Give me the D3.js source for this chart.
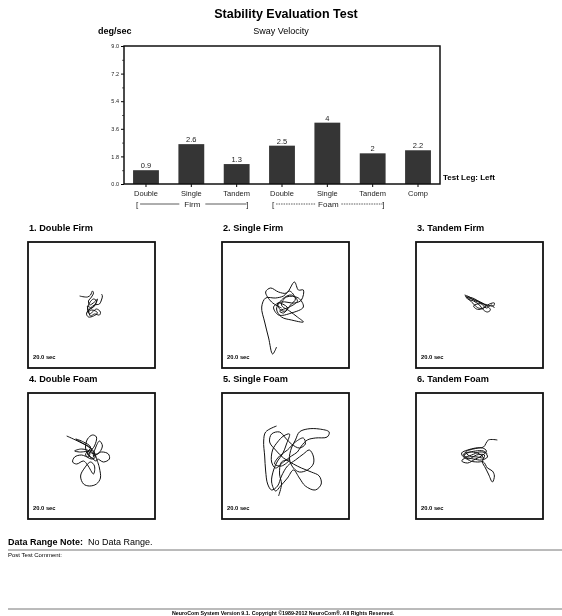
<!DOCTYPE html>
<html>
<head>
<meta charset="utf-8">
<script src="https://cdnjs.cloudflare.com/ajax/libs/d3/7.8.5/d3.min.js"></script>
<style>
  body { margin: 0; background: #fff; }
  svg { font-family: "Liberation Sans", Arial, sans-serif; filter: grayscale(100%); }
</style>
</head>
<body>
<svg id="chart" width="562" height="616"></svg>
<script>
// bar chart data
const categories = ['Double', 'Single', 'Tandem', 'Double', 'Single', 'Tandem', 'Comp'];
const swayVelocity = [0.9, 2.6, 1.3, 2.5, 4, 2, 2.2];
const valueLabels = ['0.9', '2.6', '1.3', '2.5', '4', '2', '2.2'];
const yTicks = [0, 1.8, 3.6, 5.4, 7.2, 9.0];
const yMinorTicks = [0.9, 2.7, 4.5, 6.3, 8.1];
const groups = [
  {name: 'Firm', from: 0, to: 2, dashed: false},
  {name: 'Foam', from: 3, to: 5, dashed: true}
];

// sway traces, [x, y] centre of gravity offsets
const traceDoubleFirm = [[-12, 9], [-4, 8], [-1, 10], [1, 14], [2, 12], [0, 8], [-3, 4], [-2, 0], [3, 3], [6, 6],
  [4, 1], [0, -3], [-4, -1], [-3, -6], [-1, -11], [3, -9], [8, -10], [9, -7], [5, -4], [1, -7], [-2, -9],
  [-4, -4], [-2, 2], [2, 6], [5, 4], [2, -2], [-3, -5], [-5, -9], [-3, -12], [2, -11], [6, -8], [4, -6],
  [0, -5], [-4, -7], [-1, -3], [3, 0], [8, 1], [10, 5], [11, 9], [10, 11]];
const traceSingleFirm = [[-4, -3], [-14, 3], [-20, 13], [-15, 17], [-7, 13], [1, 12], [9, 23], [13, 15], [18, 15],
  [16, 5], [9, 2], [-4, 3], [-12, -2], [-7, -10], [6, -8], [18, -2], [13, 7], [1, 8], [-4, 0], [4, -6],
  [12, -12], [18, -17], [6, -15], [-4, -12], [-9, -4], [-3, 6], [6, 10], [12, 4], [4, -2], [-6, -6],
  [-2, -8], [2, -3], [-3, 1], [-8, 2], [-5, -5], [0, -6], [5, 0], [10, 6], [4, 14], [-2, 9], [-10, 7],
  [-20, 7], [-24, -2], [-21, -17], [-17, -33], [-13, -49], [-9, -42]];
const traceTandemFirm = [[-15, 10], [-10, 8], [-4, 4], [2, 2], [8, 0], [14, -1], [15, 2], [10, 1], [4, -3], [-1, -3],
  [-5, 0], [-10, 5], [-14, 9], [-12, 6], [-6, 4], [0, 0], [4, -5], [8, -7], [11, -5], [9, -2], [4, 1],
  [-2, 1], [-6, -1], [-3, -4], [2, -4], [6, -1], [1, 3], [-8, 6], [-13, 8], [-7, 7], [0, 3], [7, -3],
  [12, 0], [15, -3]];
const traceDoubleFoam = [[-25, 20], [-12, 14], [0, 7], [-3, 2], [-6, 8], [-4, 17], [1, 21], [5, 19], [3, 10], [-1, 4],
  [6, 2], [11, 10], [8, 15], [4, 8], [2, 0], [10, 4], [17, 2], [18, -3], [12, -6], [6, -3], [8, -12],
  [9, -22], [5, -28], [-2, -30], [-8, -28], [-11, -20], [-7, -12], [-1, -6], [3, -10], [2, -18], [-4, -9],
  [-8, -5], [-15, -8], [-19, -6], [-17, -1], [-10, 1], [-3, -1], [-2, 4], [-12, 4], [-17, 5], [-10, 7],
  [0, 4], [4, -1], [0, -3], [-6, 1], [-2, 6], [3, 3], [1, -2], [-4, 2], [-1, 9], [-8, 14], [-16, 17],
  [-6, 11], [2, 5], [5, -5], [-1, -1], [-5, 4]];
const traceSingleFoam = [[-9, 30], [-20, 24], [-22, 15], [-21, 0], [-20, -15], [-18, -28], [-14, -34], [-8, -30],
  [-4, -20], [2, -10], [10, -4], [18, 2], [24, 6], [28, 0], [28, -8], [22, -14], [14, -16], [8, -12],
  [4, -3], [6, 8], [10, 16], [14, 24], [22, 27], [34, 27], [44, 24], [42, 19], [30, 18], [22, 16],
  [16, 10], [12, 4], [6, 0], [-2, -6], [-10, -12], [-14, -6], [-13, 6], [-8, 14], [-2, 20], [4, 22],
  [1, 12], [-3, 2], [-8, -5], [-12, -14], [-14, -26], [-10, -35], [-5, -30], [2, -22], [8, -14],
  [14, -22], [20, -30], [30, -34], [36, -28], [34, -20], [26, -16], [16, -12], [8, -8], [-2, -2],
  [-10, 6], [-16, 14], [-14, 22], [-6, 24], [0, 18], [6, 12], [14, 8], [20, 12], [18, 18], [10, 14],
  [2, 6], [-6, 0], [-11, -8], [-4, -10], [4, -4], [-4, -6], [-6, -18], [-4, -28], [-7, -40]];
const traceTandemFoam = [[18, 16], [9, 16], [4, 9], [-4, 8], [-12, 6], [-18, 3], [-16, -1], [-8, 1], [0, 4], [6, 3],
  [8, -1], [2, -4], [-6, -3], [-14, -2], [-18, -5], [-12, -7], [-4, -3], [2, 0], [7, 5], [3, 8],
  [-6, 7], [-14, 4], [-10, 0], [-2, -1], [4, -2], [0, 2], [-8, 4], [-16, 2], [-11, -3], [-3, 1], [5, 1],
  [3, -6], [6, -12], [9, -18], [13, -26], [15, -20], [13, -15], [8, -12], [4, -6], [-2, -6], [-9, -5],
  [-16, 0], [-12, 3], [-4, 5], [4, 5], [8, 2]];

const conditions = ['1. Double Firm', '2. Single Firm', '3. Tandem Firm', '4. Double Foam', '5. Single Foam', '6. Tandem Foam'];
const traces = [traceDoubleFirm, traceSingleFirm, traceTandemFirm, traceDoubleFoam, traceSingleFoam, traceTandemFoam];
const durationLabel = '20.0 sec';

const svg = d3.select('#chart');

// headings
svg.append('text').attr('x', 286).attr('y', 18).attr('text-anchor', 'middle')
  .style('font-size', '12.5px').style('font-weight', 'bold').text('Stability Evaluation Test');
svg.append('text').attr('x', 98).attr('y', 34)
  .style('font-size', '9px').style('font-weight', 'bold').text('deg/sec');
svg.append('text').attr('x', 281).attr('y', 34).attr('text-anchor', 'middle')
  .style('font-size', '9px').text('Sway Velocity');

// bar chart
const plot = {left: 124, right: 440, top: 46, bottom: 184};

const x = d3.scaleBand()
  .domain(d3.range(categories.length))
  .range([plot.left, plot.right])
  .paddingInner(0.43)
  .paddingOuter(0.2);

const y = d3.scaleLinear().domain([0, 9]).range([plot.bottom, plot.top]);

const yAxis = svg.append('g')
  .attr('transform', 'translate(' + plot.left + ',0)')
  .call(d3.axisLeft(y).tickValues(yTicks).tickSize(3).tickPadding(2).tickFormat(d3.format('.1f')));
yAxis.select('.domain').remove();
yAxis.selectAll('text').style('font-size', '5.5px').attr('fill', '#222');

const yMinor = svg.append('g')
  .attr('transform', 'translate(' + plot.left + ',0)')
  .call(d3.axisLeft(y).tickValues(yMinorTicks).tickSize(2).tickFormat(''));
yMinor.select('.domain').remove();
yMinor.selectAll('line').attr('stroke', '#666');

const xAxis = svg.append('g')
  .attr('transform', 'translate(0,' + plot.bottom + ')')
  .call(d3.axisBottom(x).tickSize(3).tickPadding(4).tickFormat(i => categories[i]));
xAxis.select('.domain').remove();
xAxis.selectAll('text').style('font-size', '7.5px').attr('fill', '#222');

svg.selectAll('.bar')
  .data(swayVelocity)
  .enter().append('rect')
  .attr('class', 'bar')
  .style('fill', '#353535')
  .attr('x', (d, i) => x(i))
  .attr('width', x.bandwidth())
  .attr('y', d => y(d))
  .attr('height', d => plot.bottom - y(d));

svg.selectAll('.val')
  .data(swayVelocity)
  .enter().append('text')
  .attr('class', 'val')
  .attr('x', (d, i) => x(i) + x.bandwidth() / 2)
  .attr('y', d => y(d) - 2)
  .attr('text-anchor', 'middle')
  .style('font-size', '7.5px')
  .attr('fill', '#222')
  .text((d, i) => valueLabels[i]);

svg.append('rect')
  .attr('x', plot.left).attr('y', plot.top)
  .attr('width', plot.right - plot.left).attr('height', plot.bottom - plot.top)
  .attr('fill', 'none').attr('stroke', '#111').attr('stroke-width', 1.5);

svg.append('text').attr('x', 443).attr('y', 180)
  .style('font-size', '8px').style('font-weight', 'bold').text('Test Leg: Left');

// surface brackets
groups.forEach(g => {
  const x0 = x(g.from) + 3;
  const x1 = x(g.to) + x.bandwidth() - 1;
  const cx = (x0 + x1) / 2;
  const by = 207;
  const gap = 13;
  const grp = svg.append('g').attr('stroke', '#333').attr('fill', 'none').attr('stroke-width', 0.8);
  if (g.dashed) grp.attr('stroke-dasharray', '1.5,1');
  grp.append('line').attr('x1', x0 + 4).attr('x2', cx - gap).attr('y1', by - 3).attr('y2', by - 3);
  grp.append('line').attr('x1', cx + gap).attr('x2', x1 - 2).attr('y1', by - 3).attr('y2', by - 3);
  svg.append('text').attr('x', x0).attr('y', by).style('font-size', '8px').attr('fill', '#222').text('[');
  svg.append('text').attr('x', x1).attr('y', by).attr('text-anchor', 'end').style('font-size', '8px').attr('fill', '#222').text(']');
  svg.append('text').attr('x', cx).attr('y', by).attr('text-anchor', 'middle')
    .style('font-size', '8px').attr('fill', '#222').text(g.name);
});

// sway plots
const colLeft = [28, 222, 416];
const rowTop = [242, 393];
const boxW = 127, boxH = 126;

const line = d3.line().curve(d3.curveCatmullRom.alpha(0.5));

traces.forEach((trace, i) => {
  const left = colLeft[i % 3];
  const top = rowTop[Math.floor(i / 3)];
  const sx = d3.scaleLinear().domain([-64, 64]).range([left, left + boxW]);
  const sy = d3.scaleLinear().domain([-63, 63]).range([top + boxH, top]);

  svg.append('text').attr('x', left + 1).attr('y', top - 11)
    .style('font-size', '9.2px').style('font-weight', 'bold').text(conditions[i]);

  svg.append('rect').attr('x', left).attr('y', top).attr('width', boxW).attr('height', boxH)
    .attr('fill', 'none').attr('stroke', '#111').attr('stroke-width', 1.8);

  svg.append('path')
    .attr('d', line.x(d => sx(d[0])).y(d => sy(d[1]))(trace))
    .attr('fill', 'none').attr('stroke', '#111').attr('stroke-width', 1);

  svg.append('text').attr('x', left + 5).attr('y', top + boxH - 9)
    .style('font-size', '5.8px').style('font-weight', 'bold').text(durationLabel);
});

// footer
svg.append('text').attr('x', 8).attr('y', 545)
  .style('font-size', '9px').style('font-weight', 'bold').text('Data Range Note:');
svg.append('text').attr('x', 88).attr('y', 545)
  .style('font-size', '9px').text('No Data Range.');
svg.append('line').attr('x1', 8).attr('x2', 562).attr('y1', 550).attr('y2', 550)
  .attr('stroke', '#777').attr('stroke-width', 1);
svg.append('text').attr('x', 8).attr('y', 557)
  .style('font-size', '6px').text('Post Test Comment:');
svg.append('line').attr('x1', 8).attr('x2', 562).attr('y1', 609).attr('y2', 609)
  .attr('stroke', '#777').attr('stroke-width', 1);
svg.append('text').attr('x', 283).attr('y', 615).attr('text-anchor', 'middle')
  .style('font-size', '5.3px').style('font-weight', 'bold')
  .text('NeuroCom System Version 9.1. Copyright \u00a91989-2012 NeuroCom\u00ae. All Rights Reserved.');
</script>
</body>
</html>
